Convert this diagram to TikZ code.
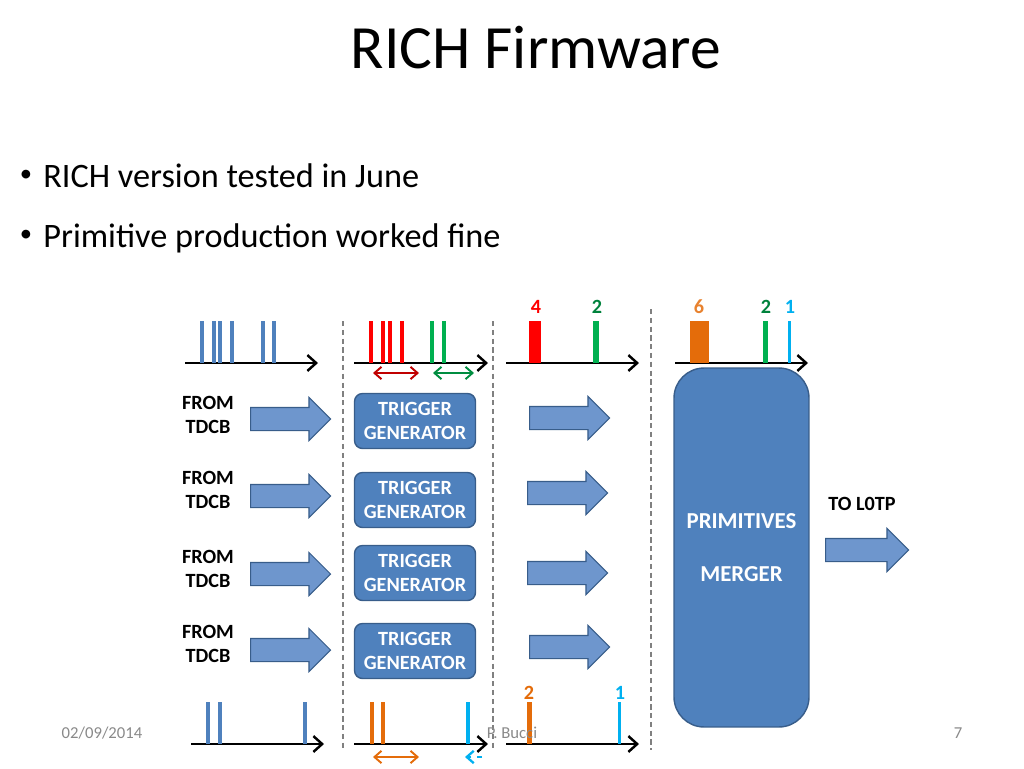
\documentclass[tikz,border=0pt]{standalone}
\usepackage{fontspec}
\setmainfont{Carlito}
\usepackage{xcolor}
\usepackage{tikz}
\usetikzlibrary{arrows.meta,shapes.arrows}
\definecolor{rbblue}{RGB}{79,129,189}
\definecolor{rbdark}{RGB}{56,93,138}
\definecolor{rbarrow}{RGB}{110,150,205}
\definecolor{rbred}{RGB}{255,0,0}
\definecolor{rbdred}{RGB}{192,0,0}
\definecolor{rbgreen}{RGB}{0,176,80}
\definecolor{rbdgreen}{RGB}{0,130,60}
\definecolor{rborange}{RGB}{228,108,10}
\definecolor{rbcyan}{RGB}{0,176,240}
\definecolor{rbgrey}{RGB}{137,137,137}

\begin{document}
\begin{tikzpicture}[x=0.02cm,y=-0.02cm,
  axis/.style={line width=1.4pt,-{Straight Barb[length=5pt,width=9pt]}},
  tick/.style={line width=1.9pt},
  span/.style={line width=1.1pt,{Straight Barb[length=4pt,width=7pt]}-{Straight Barb[length=4pt,width=7pt]}},
  sep/.style={gray,line width=0.6pt,dash pattern=on 3pt off 2pt},
  fatarrow/.style={single arrow,draw=rbdark,fill=rbarrow,line width=0.6pt,anchor=tail,
    inner xsep=0pt,inner ysep=0.22cm,single arrow head extend=0.2cm,minimum height=1.6cm},
  trigbox/.style={rounded corners=0.16cm,draw=rbdark,fill=rbblue,line width=0.8pt,
    minimum width=2.42cm,minimum height=1.1cm,align=center,text=white,
    font=\fontsize{11.5}{14}\selectfont\bfseries},
  srclabel/.style={align=center,font=\fontsize{11.5}{13.5}\selectfont\bfseries},
  count/.style={font=\fontsize{11.5}{13}\selectfont\bfseries},
  bullet/.style={font=\fontsize{14}{16}\selectfont},
  foot/.style={text=rbgrey,font=\fontsize{9.5}{11}\selectfont}]
\useasboundingbox (0,0) rectangle (1024,768);

% Title and bullets
\node (title) at (536,48) {\fontsize{35}{40}\selectfont RICH Firmware};
\node[bullet] (dot1) at (26,176) {\textbullet};
\node[anchor=base west,inner sep=0pt] (bull1) at (43,187) {\fontsize{19.5}{24}\selectfont RICH version tested in June};
\node[bullet] (dot2) at (26,236) {\textbullet};
\node[anchor=base west,inner sep=0pt] (bull2) at (43,247) {\fontsize{19.5}{24}\selectfont Primitive production worked fine};

% Separators
\draw[sep] (343,321) -- (343,750);
\draw[sep] (493,321) -- (493,750);
\draw[sep] (651,309) -- (651,750);

% Top row: hits from TDCB
\draw[axis] (185,363) -- (318,363);
\foreach \x in {202,214,220,232,263,274} {
    \draw[tick,rbblue] (\x,363) -- (\x,321);
}
% Top row: grouped hits
\draw[axis] (354,363) -- (488,363);
\foreach \x in {371,383,390,402} {
    \draw[tick,rbred] (\x,363) -- (\x,321);
}
\foreach \x in {432,444} {
    \draw[tick,rbgreen] (\x,363) -- (\x,321);
}
\draw[span,rbdred] (373,373) -- (419,373);
\draw[span,rbgreen!80!black] (433,373) -- (474,373);
% Top row: primitives
\draw[axis] (506,363) -- (639,363);
\fill[rbred] (529,363) rectangle (541,321);
\fill[rbgreen] (593,363) rectangle (599,321);
\node[count,rbred] (cnta) at (536,307) {4};
\node[count,rbdgreen] (cntb) at (597,307) {2};
% Top row: merged primitives
\draw[axis] (675,363) -- (808,363);
\fill[rborange] (690,363) rectangle (709,321);
\fill[rbgreen] (763,363) rectangle (768,321);
\fill[rbcyan] (788,363) rectangle (791,321);
\node[count,rborange!85!white] (cntc) at (699,307) {6};
\node[count,rbdgreen] (cntd) at (766,307) {2};
\node[count,rbcyan] (cnte) at (790,307) {1};

% Four channels
\node[srclabel] (from1) at (208,415) {FROM\\TDCB};
\node[srclabel] (from2) at (208,490) {FROM\\TDCB};
\node[srclabel] (from3) at (208,569) {FROM\\TDCB};
\node[srclabel] (from4) at (208,644) {FROM\\TDCB};
\node[fatarrow] (inarr1) at (250,419) {};
\node[fatarrow] (inarr2) at (250,496) {};
\node[fatarrow] (inarr3) at (250,574) {};
\node[fatarrow] (inarr4) at (250,650) {};
\node[trigbox] (trig1) at (415,421) {TRIGGER\\GENERATOR};
\node[trigbox] (trig2) at (415,500) {TRIGGER\\GENERATOR};
\node[trigbox] (trig3) at (415,573) {TRIGGER\\GENERATOR};
\node[trigbox] (trig4) at (415,651) {TRIGGER\\GENERATOR};
\node[fatarrow] (outarr1) at (529,418) {};
\node[fatarrow] (outarr2) at (527,493) {};
\node[fatarrow] (outarr3) at (527,573) {};
\node[fatarrow] (outarr4) at (529,647) {};

% Merger and output
\node[rounded corners=0.6cm,draw=rbdark,fill=rbblue,line width=0.8pt,
  minimum width=2.7cm,minimum height=7.18cm,align=center,text=white,
  font=\fontsize{13}{16}\selectfont\bfseries] (merger) at (741.5,547.5) {PRIMITIVES\\[14pt]MERGER};
\node[srclabel] (tolotp) at (862,504) {TO L0TP};
\node[fatarrow,minimum height=1.66cm] (lotparr) at (825,550) {};

% Bottom row
\draw[axis] (191,744) -- (324,744);
\foreach \x in {208,220,305} {
    \draw[tick,rbblue] (\x,744) -- (\x,702);
}
\draw[axis] (354,744) -- (488,744);
\foreach \x in {372,383} {
    \draw[tick,rborange] (\x,744) -- (\x,702);
}
\draw[tick,rbcyan] (468,744) -- (468,702);
\draw[span,rborange] (373,757) -- (419,757);
\draw[line width=1.3pt,rbcyan,dashed,-{Straight Barb[length=4pt,width=7pt]}] (482,757) -- (465,757);
\draw[axis] (506,744) -- (639,744);
\fill[rborange] (527,744) rectangle (532,702);
\fill[rbcyan] (618,744) rectangle (621,702);
\node[count,rborange] (cntf) at (529,693) {2};
\node[count,rbcyan] (cntg) at (620,693) {1};

% Footer
\node[foot] (date) at (102,733) {02/09/2014};
\node[foot] (author) at (512,733) {P. Bucci};
\node[foot] (page) at (958,733) {7};
\end{tikzpicture}
\end{document}
